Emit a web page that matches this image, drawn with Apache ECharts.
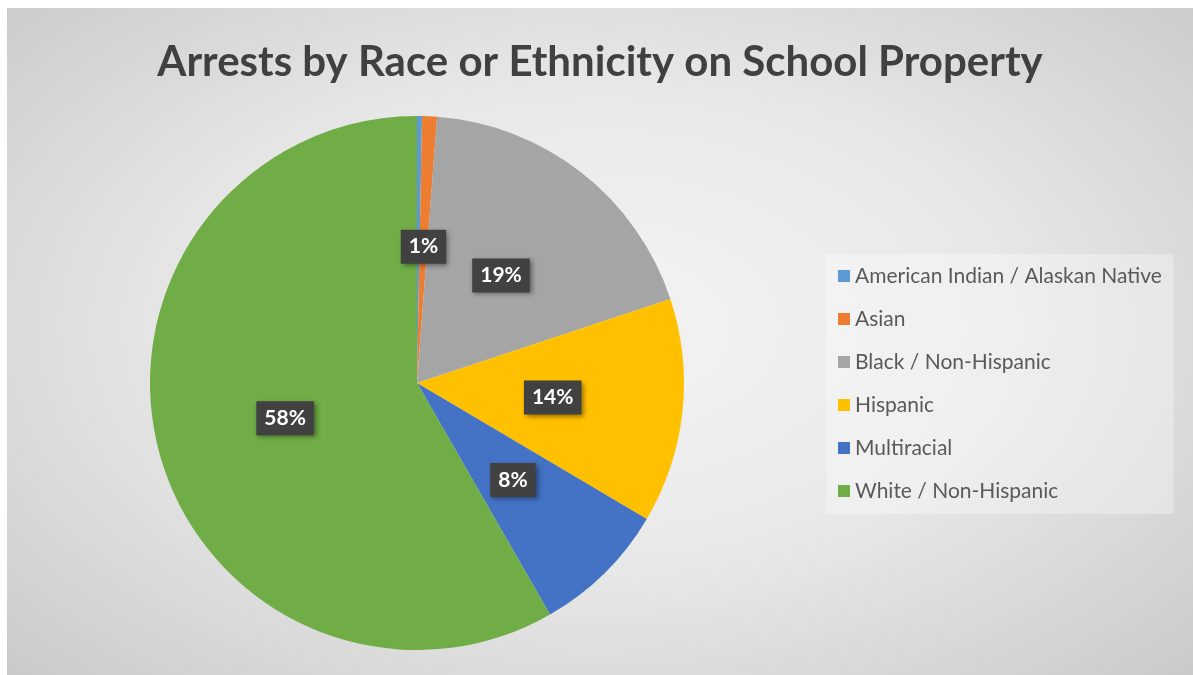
<!DOCTYPE html>
<html>
<head>
<meta charset="utf-8">
<title>Arrests by Race or Ethnicity on School Property</title>
<script src="https://cdn.jsdelivr.net/npm/echarts@6/dist/echarts.min.js"></script>
<style>
  html, body { margin: 0; padding: 0; background: #ffffff; }
  #chart {
    position: absolute;
    left: 7px; top: 8px;
    width: 1186px; height: 667px;
    background: radial-gradient(ellipse 75% 80% at 50% 48%, #f4f4f4 0%, #e8e8e8 45%, #d2d2d2 80%, #c5c5c5 100%);
  }
</style>
</head>
<body>
<div id="chart"></div>
<script>
// Share of arrests (percent) by race or ethnicity
const categories = [
  'American Indian / Alaskan Native',
  'Asian',
  'Black / Non-Hispanic',
  'Hispanic',
  'Multiracial',
  'White / Non-Hispanic'
];
const shares = [0.3, 0.9, 18.7, 13.6, 8.2, 58.3];
const sliceColors = ['#5B9BD5', '#ED7D31', '#A5A5A5', '#FFC000', '#4472C4', '#70AD47'];
// Slices too thin to carry a label
const unlabeled = ['American Indian / Alaskan Native'];

const chart = echarts.init(document.getElementById('chart'), null, { renderer: 'canvas' });

const pieData = categories.map((name, i) => ({
  name: name,
  value: shares[i],
  itemStyle: { color: sliceColors[i] },
  label: { show: unlabeled.indexOf(name) < 0 }
}));

chart.setOption({
  animation: false,
  backgroundColor: 'transparent',
  title: {
    text: 'Arrests by Race or Ethnicity on School Property',
    left: 'center',
    top: 28,
    textStyle: {
      fontFamily: 'Lato',
      fontWeight: 'bold',
      fontSize: 42,
      color: '#404040'
    }
  },
  legend: {
    orient: 'vertical',
    left: 819,
    top: 246,
    icon: 'rect',
    itemWidth: 12,
    itemHeight: 12,
    itemGap: 21,
    padding: [11, 12, 12, 12],
    backgroundColor: 'rgba(255,255,255,0.32)',
    selectedMode: false,
    data: categories,
    textStyle: {
      fontFamily: 'Lato',
      fontSize: 21,
      lineHeight: 22,
      color: '#595959'
    }
  },
  series: [{
    type: 'pie',
    center: [410, 375],
    radius: [0, 267],
    startAngle: 90,
    clockwise: true,
    avoidLabelOverlap: false,
    silent: true,
    itemStyle: { borderWidth: 0 },
    label: {
      show: true,
      position: 'inside',
      formatter: p => Math.round(p.value) + '%',
      fontFamily: 'Lato',
      fontWeight: 'bold',
      fontSize: 21,
      color: '#ffffff',
      backgroundColor: '#414141',
      padding: [7, 8, 6, 8],
      shadowColor: 'rgba(0,0,0,0.45)',
      shadowBlur: 5,
      shadowOffsetX: 2,
      shadowOffsetY: 2
    },
    labelLine: { show: false },
    data: pieData
  }]
});
</script>
</body>
</html>
